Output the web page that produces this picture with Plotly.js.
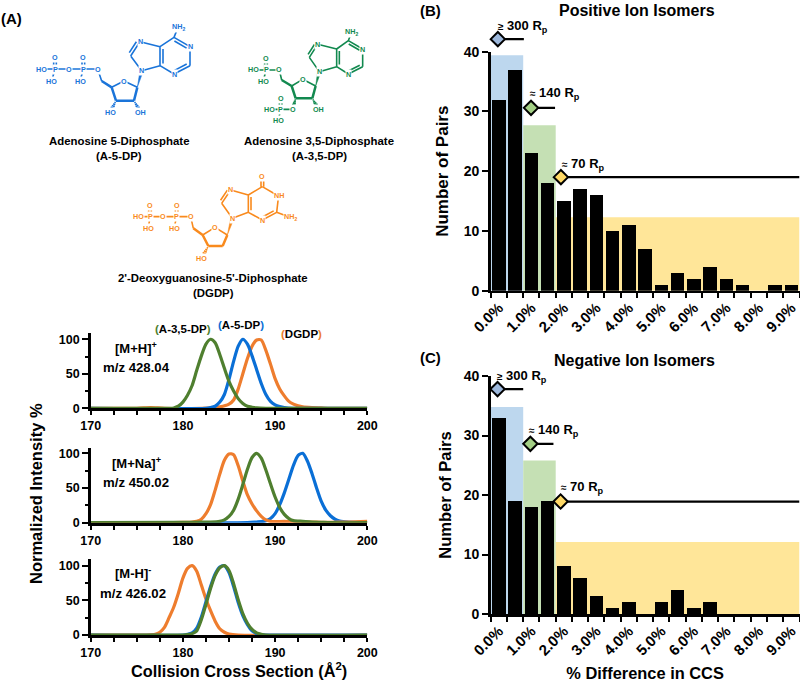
<!DOCTYPE html>
<html><head><meta charset="utf-8">
<script src="https://cdn.plot.ly/plotly-3.0.1.min.js"></script>
<style>html,body{margin:0;padding:0;background:#fff}</style>
</head><body><div id="chart" style="width:800px;height:683px"></div>
<script>
// ---------- chart values ----------
const binCentres = [0.25,0.75,1.25,1.75,2.25,2.75,3.25,3.75,4.25,4.75,5.25,5.75,6.25,6.75,7.25,7.75,8.25,8.75,9.25];
const positivePairs = [32,37,23,18,15,17,16,10,11,7,1,3,2,4,2,1,0,1,1];
const negativePairs = [33,19,18,19,8,6,3,1,2,0,2,4,1,2,0,0,0,0,0];
const pctLabels = ['0.0%','1.0%','2.0%','3.0%','4.0%','5.0%','6.0%','7.0%','8.0%','9.0%'];
const pctLabelPos = [0.25,1.25,2.25,3.25,4.25,5.25,6.25,7.25,8.25,9.25];

const mhGreenX = [170,178.5,179,179.5,180,180.5,181,181.5,182,182.5,183,183.5,184,184.5,185,185.5,186,186.5,187,187.5,188,189,200];
const mhGreenY = [0,0,0.5,3,9,19,33,55,76,93,100,95,78,58,39,25,14,7,3,1.5,0.5,0,0];
const mhBlueX = [170,182.5,183,183.5,184,184.5,185,185.5,186,186.5,187,187.5,188,188.5,189,189.5,190,190.5,191,192,200];
const mhBlueY = [0,0,1,3,9,20,42,68,90,100,93,76,56,36,20,10,5,2.5,1,0,0];
const mhOrangeX = [170,175,176.5,178,182,183,184,185,185.5,186,186.5,187,187.5,188,188.5,189,189.5,190,190.5,191,191.5,192,192.5,193,194,195,196,200];
const mhOrangeY = [0,0,1,0,0,0.5,2,6,12,28,50,72,90,99,99,84,64,43,28,18,10,6,3.5,2,1,0.5,0,0];

const naOrangeX = [170,178,180,181,181.5,182,182.5,183,183.5,184,184.5,185,185.5,186,186.5,187,187.5,188,188.5,189,189.5,190,191,192,193,194,195,196,198,200];
const naOrangeY = [0,0,0.5,1,2,5,13,26,47,70,90,99,98,82,60,40,27,17,9,4,2,1.5,2,1.5,1,1,0.5,0.5,1,2];
const naGreenX = [170,180,182,183,184,184.5,185,185.5,186,186.5,187,187.5,188,188.5,189,189.5,190,190.5,191,191.5,192,193,194,195,196,200];
const naGreenY = [0,0.5,1,1,2,4,9,18,34,55,77,94,100,93,76,56,37,22,12,6,3,2,1,0.5,0,0];
const naBlueX = [170,187,188,188.5,189,189.5,190,190.5,191,191.5,192,192.5,193,193.5,194,194.5,195,195.5,196,196.5,197,198,199,200];
const naBlueY = [0,0,1,1.5,3,6,13,26,43,63,83,97,100,89,71,50,31,18,10,5,2.5,1,0.5,0];

const mmOrangeX = [170,176,177,177.5,178,178.5,179,179.5,180,180.5,181,181.5,182,182.5,183,183.5,184,184.5,185,186,200];
const mmOrangeY = [0,0,1,4,11,25,40,60,82,96,100,92,72,52,35,20,9,4,1.5,0,0];
const mmBlueX = [170,180,180.5,181,181.5,182,182.5,183,183.5,184,184.5,185,185.5,186,186.5,187,187.5,188,188.5,189,200];
const mmBlueY = [0,0,1,3,10,26,48,70,88,98,100,90,70,47,28,15,6,2,0.5,0,0];
const mmGreenX = [170,180,180.5,181,181.5,182,182.5,183,183.5,184,184.5,185,185.5,186,186.5,187,187.5,188,188.5,189,200];
const mmGreenY = [0,0,0.5,2,6,22,44,67,86,97,100,93,74,51,31,17,8,3,1,0,0];

// ---------- style ----------
const FONT = 'Liberation Sans, Arial, sans-serif';
const BLUE='#0a6fd6', GREEN='#4f7f2f', ORANGE='#ee7d2e';
const MBLUE='#1a74d9', MGREEN='#12894f', MORANGE='#f98a1d';
const fx = p => p/800, fy = p => 1-p/683;

const curve = (xs,ys,c,xa,ya,w) => ({type:'scatter',mode:'lines',x:xs,y:ys,xaxis:xa,yaxis:ya,
  line:{color:c,width:w||3.2,shape:'spline',smoothing:0.7},hoverinfo:'skip',showlegend:false});
const bars = (ys,xa,ya) => ({type:'bar',x:binCentres,y:ys,width:0.42,xaxis:xa,yaxis:ya,
  marker:{color:'#000',line:{width:0}},showlegend:false});
const limit = (x,end,y,fill,xa,ya) => [
 {type:'scatter',mode:'lines',x:[x,end],y:[y,y],xaxis:xa,yaxis:ya,cliponaxis:false,line:{color:'#000',width:2.2},showlegend:false},
 {type:'scatter',mode:'markers',x:[x],y:[y],xaxis:xa,yaxis:ya,cliponaxis:false,showlegend:false,
  marker:{symbol:'diamond',size:11,color:fill,line:{color:'#000',width:2}}}];

const data = [
 curve(mhOrangeX,mhOrangeY,ORANGE,'x','y'),
 curve(mhBlueX,mhBlueY,BLUE,'x','y'),
 curve(mhGreenX,mhGreenY,GREEN,'x','y'),
 curve(naBlueX,naBlueY,BLUE,'x2','y2'),
 curve(naOrangeX,naOrangeY,ORANGE,'x2','y2'),
 curve(naGreenX,naGreenY,GREEN,'x2','y2'),
 curve(mmOrangeX,mmOrangeY,ORANGE,'x3','y3'),
 curve(mmBlueX,mmBlueY,BLUE,'x3','y3'),
 curve(mmGreenX,mmGreenY,GREEN,'x3','y3'),
 bars(positivePairs,'x4','y4'),
 bars(negativePairs,'x5','y5'),
 ...limit(0.22,1.02,42.1,'#9db8dc','x4','y6'),
 ...limit(1.24,1.98,30.6,'#a3cf85','x4','y6'),
 ...limit(2.16,9.5,19,'#ffd966','x4','y6'),
 ...limit(0.21,1.0,37.8,'#9db8dc','x5','y5'),
 ...limit(1.22,1.93,28.6,'#a3cf85','x5','y5'),
 ...limit(2.15,9.5,18.9,'#ffd966','x5','y5')
];

// ---------- axes ----------
const LX=[90.7,367.3], RX=[490.7,799.5];
const dom = (a,b)=>[fy(b),fy(a)];
const tf = s => ({family:FONT,size:s,color:'#000',weight:700});
const leftX = (top,bot,anchor)=>({domain:[fx(LX[0]),fx(LX[1])],range:[170,200],anchor,tickmode:'array',
  tickvals:[170,180,190,200],ticktext:['170','180','190','200'],tickfont:tf(12.5),ticks:'outside',ticklen:4,tickwidth:2,tickcolor:'#000',
  minor:{tickmode:'array',tickvals:[172.5,175,177.5,182.5,185,187.5,192.5,195,197.5],ticks:'outside',ticklen:4,tickwidth:2,tickcolor:'#000'},
  showline:true,linecolor:'#000',linewidth:3,showgrid:false,zeroline:false,fixedrange:true});
const leftY = (top,bot,max,anchor)=>({domain:dom(top,bot),range:[0,max],anchor,tickmode:'array',tickvals:[0,50,100],ticktext:['0','50','100'],
  tickfont:tf(12.5),ticks:'outside',ticklen:6,tickwidth:2,tickcolor:'#000',
  minor:{tickmode:'array',tickvals:[25,75],ticks:'outside',ticklen:3,tickwidth:2,tickcolor:'#000'},
  showline:true,linecolor:'#000',linewidth:2.5,showgrid:false,zeroline:false,fixedrange:true});
const pctX = anchor=>({domain:[fx(RX[0]),fx(RX[1])],range:[0,9.5],anchor,tickmode:'array',tickvals:pctLabelPos,ticktext:pctLabels,
  tickangle:-45,tickfont:tf(15),ticks:'',
  minor:{tick0:0,dtick:0.5,ticks:'outside',ticklen:5,tickwidth:2,tickcolor:'#000'},
  showline:true,linecolor:'#000',linewidth:2.5,showgrid:false,zeroline:false,fixedrange:true});
const pairY = (top,bot,anchor,stand)=>({domain:dom(top,bot),range:[0,40],anchor,tickmode:'array',tickvals:[0,10,20,30,40],ticktext:['0','10','20','30','40'],
  tickfont:tf(14),ticks:'outside',ticklen:6,tickwidth:2,tickcolor:'#000',
  showline:true,linecolor:'#000',linewidth:2.5,showgrid:false,zeroline:false,fixedrange:true,
  title:{text:'Number of Pairs',font:tf(17),standoff:stand}});

const layout = {
 width:800,height:683,margin:{l:0,r:0,t:0,b:0},paper_bgcolor:'#fff',plot_bgcolor:'rgba(0,0,0,0)',showlegend:false,bargap:0,
 font:{family:FONT,color:'#000'},
 xaxis:leftX(333,408.3,'y'), yaxis:leftY(333,408.3,109.1,'x'),
 xaxis2:leftX(447.5,522.7,'y2'), yaxis2:leftY(447.5,522.7,108.4,'x2'),
 xaxis3:leftX(559.3,635,'y3'), yaxis3:leftY(559.3,635,109.2,'x3'),
 xaxis4:pctX('y4'), yaxis4:pairY(51.7,290.7,'x4',11),
 yaxis6:{domain:dom(21.8,290.7),range:[0,45],anchor:'x4',visible:false,fixedrange:true},
 xaxis5:Object.assign(pctX('y5'),{title:{text:'% Difference in CCS',font:tf(16.4),standoff:10}}), yaxis5:Object.assign(pairY(376,614,'x5',8),{title:{text:'Number of Pairs',font:tf(16.5),standoff:8}}),
 shapes:[],annotations:[]
};

// shaded resolving-power regions
const shade=(x0,x1,top,c,xa,ya)=>layout.shapes.push({type:'rect',xref:xa,yref:ya,x0,x1,y0:0,y1:top,fillcolor:c,line:{width:0},layer:'below'});
shade(0,1,39.4,'#bdd7ee','x4','y4');shade(1,2,27.7,'#c5e0b4','x4','y4');shade(2,9.5,12.3,'#ffe699','x4','y4');
shade(0,1,34.8,'#bdd7ee','x5','y5');shade(1,2,25.8,'#c5e0b4','x5','y5');shade(2,9.5,12.1,'#ffe699','x5','y5');

// ---------- text ----------
const note=(t,x,y,s,o={})=>layout.annotations.push(Object.assign({text:t,xref:'paper',yref:'paper',x:fx(x),y:fy(y),xanchor:'center',yanchor:'middle',
  showarrow:false,font:{family:FONT,size:s,color:'#000',weight:700}},o));
note('(A)',11,18,15); note('(B)',431,10,15); note('(C)',431,357,15);
note('Positive Ion Isomers',637,10,16); note('Negative Ion Isomers',634,360,16);
note('Adenosine 5-Diphosphate',119,141,11.4); note('(A-5-DP)',119,156,11.4);
note('Adenosine 3,5-Diphosphate',319,141,11.4); note('(A-3,5-DP)',319,156,11.4);
note("2'-Deoxyguanosine-5'-Diphosphate",213,278,11.4); note('(DGDP)',213,293,11.4);
note('Normalized Intensity %',36,494,16.5,{textangle:-90});
note('Collision Cross Section (Å<sup>2</sup>)',239,670,16.3);
const paren=(t,c)=>`<span style="color:${c}">(</span>${t}<span style="color:${c}">)</span>`;
note(paren('A-3,5-DP',GREEN),183,329,11.5); note(paren('A-5-DP',BLUE),241,325,11.5); note(paren('DGDP',ORANGE),301,334,11.5);
note('[M+H]<sup>+</sup>',136,348,13); note('m/z 428.04',136,367,13.2);
note('[M+Na]<sup>+</sup>',136,463,13); note('m/z 450.02',136,482,13.2);
note('[M-H]<sup>-</sup>',133,573,13); note('m/z 426.02',133,593,13.2);
const rp=(sym,v)=>`<span style="font-size:10px">${sym}</span> ${v} R<sub>p</sub>`;
const left={xanchor:'left'};
note(rp('≥','300'),496,27,13,left); note(rp('≈','140'),528,94,13,left); note(rp('≈','70'),560,164,13,left);
note(rp('≥','300'),495,376,13,left); note(rp('≈','140'),527,430,13,left); note(rp('≈','70'),559,487,13,left);

// ---------- molecule outlines (drawing only, picture coordinates x3) ----------
function molecule(color,atoms,single,bold,dbl,wedge,hash,labels){
  const p=(q)=>`${fx(q[0]/3)},${fy(q[1]/3)}`;
  const pathOf=(segs)=>segs.map(s=>`M${p(s[0])}L${p(s[1])}`).join('');
  const seg=(a,b)=>[atoms[a],atoms[b]];
  const thin=single.map(b=>seg(b[0],b[1]));
  dbl.forEach(d=>{const A=atoms[d[0]],B=atoms[d[1]],off=d[2];
    const dx=B[0]-A[0],dy=B[1]-A[1],L=Math.hypot(dx,dy),nx=-dy/L,ny=dx/L;
    if(d[3]==='c'){thin.push([[A[0]+nx*off,A[1]+ny*off],[B[0]+nx*off,B[1]+ny*off]]);thin.push([[A[0]-nx*off,A[1]-ny*off],[B[0]-nx*off,B[1]-ny*off]]);}
    else{thin.push([A,B]);thin.push([[A[0]+nx*off+dx*.12,A[1]+ny*off+dy*.12],[B[0]+nx*off-dx*.12,B[1]+ny*off-dy*.12]]);}
  });
  hash.forEach(h=>{const A=atoms[h[0]],B=atoms[h[1]];
    const dx=B[0]-A[0],dy=B[1]-A[1],L=Math.hypot(dx,dy),nx=-dy/L,ny=dx/L;
    for(let i=1;i<=4;i++){const t=i/5*0.75,w=1+t*8;
      thin.push([[A[0]+dx*t+nx*w,A[1]+dy*t+ny*w],[A[0]+dx*t-nx*w,A[1]+dy*t-ny*w]]);}
  });
  const common={type:'path',xref:'paper',yref:'paper',layer:'above'};
  layout.shapes.push(Object.assign({},common,{path:pathOf(thin),line:{color,width:1.6}}));
  layout.shapes.push(Object.assign({},common,{path:pathOf(bold.map(b=>seg(b[0],b[1]))),line:{color,width:2.5}}));
  wedge.forEach(wd=>{const A=atoms[wd[0]],B=atoms[wd[1]];
    const dx=B[0]-A[0],dy=B[1]-A[1],L=Math.hypot(dx,dy),nx=-dy/L*5,ny=dx/L*5;
    layout.shapes.push(Object.assign({},common,{path:`M${p(A)}L${p([B[0]+nx,B[1]+ny])}L${p([B[0]-nx,B[1]-ny])}Z`,fillcolor:color,line:{color,width:0.5}}));});
  labels.forEach(l=>{const q=atoms[l[0]];
    note(l[1],q[0]/3,q[1]/3,7.2,{font:{family:FONT,size:7.2,color,weight:700},bgcolor:'#fff',borderpad:0});});
}
const purine=[['N9','C8'],['N7','C5'],['C4','N9'],['C4','N3'],['C2','N1'],['C6','C5']];

molecule(MBLUE,{
 HO1:[125,207],P1:[165,207],O1:[165,172],HO2:[155,244],O2:[207,207],P2:[250,207],O3:[250,172],HO3:[240,244],O4:[293,207],
 C5p:[305,243],C4p:[335,262],Or:[372,243],C1p:[412,262],C2p:[402,302],C3p:[348,302],HOa:[330,338],OHb:[422,338],
 N9:[425,212],C8:[392,168],N7:[420,125],C5:[480,140],C4:[480,197],N3:[522,222],C2:[570,197],N1:[570,140],C6:[522,112],NH2:[535,80]},
 [['HO1','P1'],['P1','O2'],['O2','P2'],['P2','O4'],['P1','HO2'],['P2','HO3'],['O4','C5p'],['C4p','Or'],['Or','C1p'],['C6','NH2'],...purine],
 [['C5p','C4p'],['C1p','C2p'],['C2p','C3p'],['C3p','C4p']],
 [['P1','O1',4,'c'],['P2','O3',4,'c'],['C8','N7',-9],['C5','C4',-9],['N3','C2',-9],['N1','C6',-9]],
 [['C1p','N9']],[['C3p','HOa'],['C2p','OHb']],
 [['HO1','HO'],['P1','P'],['O1','O'],['HO2','HO'],['O2','O'],['P2','P'],['O3','O'],['HO3','HO'],['O4','O'],['Or','O'],['HOa','HO'],['OHb','OH'],
  ['N9','N'],['N7','N'],['N3','N'],['N1','N'],['NH2','NH<sub>2</sub>']]);

molecule(MGREEN,{
 HO1:[760,210],P1:[798,210],O1:[798,177],HO2:[790,243],O2:[838,210],C5p:[845,240],C4p:[875,258],Or:[908,238],C1p:[947,258],C2p:[937,295],C3p:[887,295],
 O3:[878,328],P2:[842,328],O5:[842,295],HO4:[808,328],HO5:[835,362],OHb:[955,328],
 N9:[958,215],C8:[928,172],N7:[953,133],C5:[1010,147],C4:[1010,200],N3:[1045,222],C2:[1088,200],N1:[1088,147],C6:[1045,122],NH2:[1055,95]},
 [['HO1','P1'],['P1','O2'],['P1','HO2'],['O2','C5p'],['C4p','Or'],['Or','C1p'],['O3','P2'],['P2','HO4'],['P2','HO5'],['C6','NH2'],...purine],
 [['C5p','C4p'],['C1p','C2p'],['C2p','C3p'],['C3p','C4p']],
 [['P1','O1',4,'c'],['P2','O5',4,'c'],['C8','N7',-8],['C5','C4',-8],['N3','C2',-8],['N1','C6',-8]],
 [['C1p','N9']],[['C3p','O3'],['C2p','OHb']],
 [['HO1','HO'],['P1','P'],['O1','O'],['HO2','HO'],['O2','O'],['Or','O'],['O3','O'],['P2','P'],['O5','O'],['HO4','HO'],['HO5','HO'],['OHb','OH'],
  ['N9','N'],['N7','N'],['N3','N'],['N1','N'],['NH2','NH<sub>2</sub>']]);

molecule(MORANGE,{
 HO1:[415,650],P1:[450,650],O1:[450,617],HO2:[445,685],O2:[490,650],P2:[530,650],O3:[530,617],HO3:[522,685],O4:[572,650],
 C5p:[580,685],C4p:[608,705],Or:[645,682],C1p:[682,705],C2p:[668,738],C3p:[625,738],HOa:[605,775],
 N9:[697,655],C8:[665,610],N7:[692,570],C5:[745,585],C4:[745,637],N3:[787,660],C2:[830,637],N1:[836,585],C6:[787,560],O6:[787,528],NH2:[870,652]},
 [['HO1','P1'],['P1','O2'],['O2','P2'],['P2','O4'],['P1','HO2'],['P2','HO3'],['O4','C5p'],['C4p','Or'],['Or','C1p'],['C2','NH2'],...purine],
 [['C5p','C4p'],['C1p','C2p'],['C2p','C3p'],['C3p','C4p']],
 [['P1','O1',4,'c'],['P2','O3',4,'c'],['C8','N7',-8],['C5','C4',-8],['N3','C2',-8],['C6','O6',4,'c']],
 [['C1p','N9']],[['C3p','HOa']],
 [['HO1','HO'],['P1','P'],['O1','O'],['HO2','HO'],['O2','O'],['P2','P'],['O3','O'],['HO3','HO'],['O4','O'],['Or','O'],['HOa','HO'],
  ['N9','N'],['N7','N'],['N3','N'],['N1','NH'],['O6','O'],['NH2','NH<sub>2</sub>']]);
// N1-C6 bond for the guanine ring
layout.shapes.push({type:'path',xref:'paper',yref:'paper',layer:'above',line:{color:MORANGE,width:1.6},
  path:`M${fx(830/3)},${fy(585/3)}L${fx(787/3)},${fy(560/3)}`});

Plotly.newPlot('chart',data,layout,{staticPlot:true,displayModeBar:false});
</script></body></html>
